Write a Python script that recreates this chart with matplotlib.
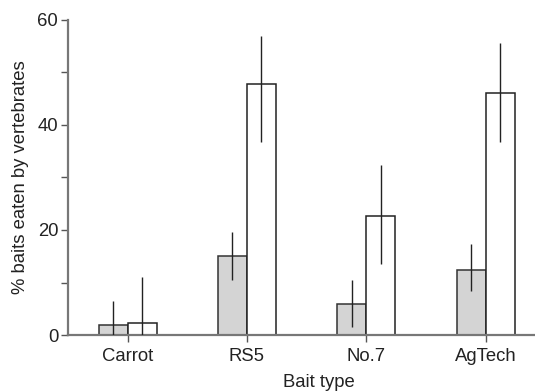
import numpy as np
import matplotlib
matplotlib.use("Agg")
from matplotlib import pyplot as plt
from matplotlib.ticker import MultipleLocator

plt.rcParams['font.family'] = ['Liberation Sans', 'DejaVu Sans']

categories = ["Carrot", "RS5", "No.7", "AgTech"]

# grey bars (first group) and white bars (second group)
grey_values = [1.9, 15.0, 5.9, 12.4]
grey_low = [0.0, 10.5, 1.5, 8.3]
grey_high = [6.5, 19.7, 10.5, 17.3]

white_values = [2.2, 47.8, 22.7, 46.0]
white_low = [0.0, 36.7, 13.5, 36.8]
white_high = [11.0, 57.0, 32.4, 55.7]

x = np.arange(len(categories))
width = 0.243

fig = plt.figure(figsize=(5.35, 3.92), dpi=100)
ax = fig.add_axes([0.127, 0.1454, 0.873, 0.8036])

gv = np.array(grey_values)
wv = np.array(white_values)
grey_err = [gv - np.array(grey_low), np.array(grey_high) - gv]
white_err = [wv - np.array(white_low), np.array(white_high) - wv]

ax.bar(x - width / 2, gv, width, color="#d4d4d4", edgecolor="#333333", linewidth=1.1, zorder=2)
ax.bar(x + width / 2, wv, width, color="white", edgecolor="#222222", linewidth=1.1, zorder=2)
ax.errorbar(x - width / 2, gv, yerr=grey_err, fmt="none", ecolor="#222222", elinewidth=1.0, capsize=0, zorder=3)
ax.errorbar(x + width / 2, wv, yerr=white_err, fmt="none", ecolor="#222222", elinewidth=1.0, capsize=0, zorder=3)

ax.set_xlim(-0.5, 3.414)
ax.set_ylim(0, 60)
ax.set_xticks(x)
ax.set_xticklabels(categories)
ax.set_yticks([0, 20, 40, 60])
ax.yaxis.set_minor_locator(MultipleLocator(10))

for side in ["top", "right"]:
    ax.spines[side].set_visible(False)
for side in ["left", "bottom"]:
    ax.spines[side].set_color("#777777")
    ax.spines[side].set_linewidth(1.6)

ax.tick_params(axis="both", which="both", direction="out", length=5, width=1.0,
               color="#555555", labelsize=13.3, labelcolor="#222222", pad=2)
ax.tick_params(axis="x", which="both", pad=4)

ax.set_ylabel("% baits eaten by vertebrates", fontsize=13.3, color="#222222")
ax.yaxis.set_label_coords(-0.083, 0.5)
ax.set_xlabel("Bait type", fontsize=13.3, color="#222222")
ax.xaxis.set_label_coords(0.537, -0.123)

fig.savefig("out.png", dpi=100)
